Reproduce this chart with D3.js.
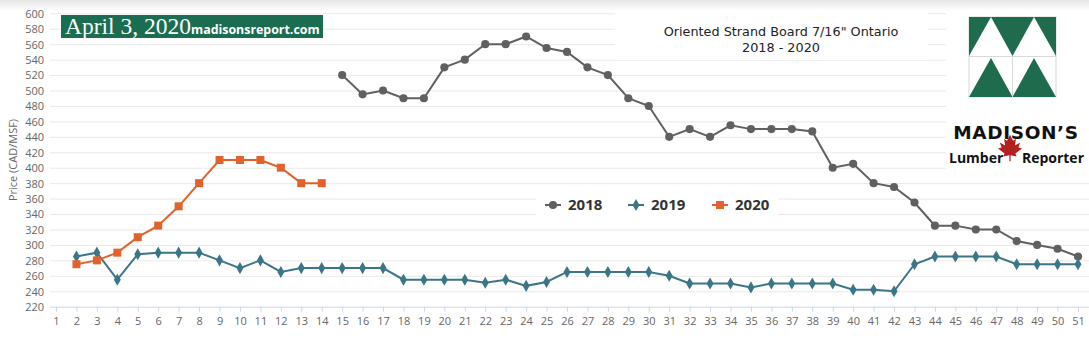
<!DOCTYPE html>
<html>
<head>
<meta charset="utf-8">
<script src="https://d3js.org/d3.v7.min.js"></script>
<style>
  body { margin: 0; background: #fff; }
  .tick text { fill: #666; font-family: "Open Sans", sans-serif; font-size: 11px; }
</style>
</head>
<body>
<div class="chart"></div>
<script>
var svgWidth = 1089;
var svgHeight = 339;

// weeks and prices (CAD/MSF)
var weeks = d3.range(1, 52);
var yTicks = d3.range(220, 601, 20);
var seriesNames = ["2018", "2019", "2020"];

var data2018 = [
  [15, 520], [16, 495], [17, 500], [18, 490], [19, 490], [20, 530], [21, 540],
  [22, 560], [23, 560], [24, 570], [25, 555], [26, 550], [27, 530], [28, 520],
  [29, 490], [30, 480], [31, 440], [32, 450], [33, 440], [34, 455], [35, 450],
  [36, 450], [37, 450], [38, 447], [39, 400], [40, 405], [41, 380], [42, 375],
  [43, 355], [44, 325], [45, 325], [46, 320], [47, 320], [48, 305], [49, 300],
  [50, 295], [51, 285]
];
var data2019 = [
  [2, 285], [3, 290], [4, 255], [5, 288], [6, 290], [7, 290], [8, 290],
  [9, 280], [10, 270], [11, 280], [12, 265], [13, 270], [14, 270], [15, 270],
  [16, 270], [17, 270], [18, 255], [19, 255], [20, 255], [21, 255], [22, 251],
  [23, 255], [24, 247], [25, 252], [26, 265], [27, 265], [28, 265], [29, 265],
  [30, 265], [31, 260], [32, 250], [33, 250], [34, 250], [35, 245], [36, 250],
  [37, 250], [38, 250], [39, 250], [40, 242], [41, 242], [42, 240], [43, 275],
  [44, 285], [45, 285], [46, 285], [47, 285], [48, 275], [49, 275], [50, 275],
  [51, 275]
];
var data2020 = [
  [2, 275], [3, 280], [4, 290], [5, 310], [6, 325], [7, 350], [8, 380],
  [9, 410], [10, 410], [11, 410], [12, 400], [13, 380], [14, 380]
];

var colors = { "2018": "#606060", "2019": "#3b7688", "2020": "#e2622b" };
var symbols = { "2018": d3.symbolCircle, "2019": d3.symbolDiamond, "2020": d3.symbolSquare };
var symSize = { "2018": 52, "2019": 42, "2020": 64 };

var svg = d3.select(".chart")
  .append("svg")
  .attr("width", svgWidth)
  .attr("height", svgHeight)
  .style("display", "block");

// faint shadow at top
var defs = svg.append("defs");
var grad = defs.append("linearGradient").attr("id", "topfade")
  .attr("x1", 0).attr("y1", 0).attr("x2", 0).attr("y2", 1);
grad.append("stop").attr("offset", "0%").attr("stop-color", "#e6e6e6");
grad.append("stop").attr("offset", "100%").attr("stop-color", "#ffffff");
svg.append("rect").attr("width", svgWidth).attr("height", 11).attr("fill", "url(#topfade)");

var xScale = d3.scalePoint()
  .domain(weeks)
  .range([56, 1078]);

var yScale = d3.scaleLinear()
  .domain([220, 600])
  .range([306.7, 13.3]);

// grid lines
svg.append("g")
  .selectAll("line")
  .data(yTicks.slice(1))
  .enter()
  .append("line")
  .attr("x1", 50)
  .attr("x2", svgWidth)
  .attr("y1", d => yScale(d) + 0.5)
  .attr("y2", d => yScale(d) + 0.5)
  .attr("stroke", "#e9e9e9")
  .attr("stroke-width", 1);

// y axis labels
var leftAxis = d3.axisLeft(yScale).tickValues(yTicks).tickSize(0).tickPadding(0);
var yAxis = svg.append("g")
  .attr("transform", "translate(44,0)")
  .call(leftAxis);
yAxis.select(".domain").remove();
yAxis.selectAll("text").attr("dy", "0.35em");

// x axis
var bottomAxis = d3.axisBottom(xScale).tickSize(5).tickPadding(6);
var xAxis = svg.append("g")
  .attr("transform", `translate(0, ${yScale(220)})`)
  .call(bottomAxis);
xAxis.select(".domain").attr("stroke", "#ccd6eb").attr("d", "M50,0.5H1089");
xAxis.selectAll(".tick line").attr("stroke", "#ccd6eb");

// y axis title
svg.append("text")
  .attr("transform", "translate(17,160) rotate(-90)")
  .attr("text-anchor", "middle")
  .attr("fill", "#666")
  .style("font-family", "Open Sans, sans-serif")
  .style("font-size", "11px")
  .text("Price (CAD/MSF)");

// white backgrounds behind title and logo
svg.append("rect").attr("x", 615).attr("y", 12).attr("width", 313).attr("height", 48).attr("fill", "#fff");
svg.append("rect").attr("x", 946).attr("y", 11).attr("width", 143).attr("height", 159).attr("fill", "#fff");

// title
svg.append("text")
  .attr("x", 781).attr("y", 36)
  .attr("text-anchor", "middle")
  .attr("fill", "#222")
  .style("font-family", "DejaVu Sans, sans-serif")
  .style("font-size", "12.8px")
  .text("Oriented Strand Board 7/16\" Ontario");
svg.append("text")
  .attr("x", 781).attr("y", 52)
  .attr("text-anchor", "middle")
  .attr("fill", "#222")
  .style("font-family", "DejaVu Sans, sans-serif")
  .style("font-size", "12.8px")
  .text("2018 - 2020");

// series
var allSeries = [["2018", data2018], ["2019", data2019], ["2020", data2020]];
var line = d3.line().x(d => xScale(d[0])).y(d => yScale(d[1]));

allSeries.forEach(function(s) {
  var name = s[0], pts = s[1];
  svg.append("path")
    .datum(pts)
    .attr("d", line)
    .attr("fill", "none")
    .attr("stroke", colors[name])
    .attr("stroke-width", 2);
  svg.append("g")
    .selectAll("path")
    .data(pts)
    .enter()
    .append("path")
    .attr("d", d3.symbol().type(symbols[name]).size(symSize[name]))
    .attr("transform", d => `translate(${xScale(d[0])},${yScale(d[1])})`)
    .attr("fill", colors[name]);
});

// legend
var legend = svg.append("g");
legend.append("rect").attr("x", 536).attr("y", 193).attr("width", 242).attr("height", 24).attr("fill", "#fff");
var legendX = [545, 628, 712];
seriesNames.forEach(function(name, i) {
  var g = legend.append("g").attr("transform", `translate(${legendX[i]},205)`);
  g.append("line").attr("x1", 0).attr("x2", 16).attr("y1", 0).attr("y2", 0)
    .attr("stroke", colors[name]).attr("stroke-width", 2);
  g.append("path")
    .attr("d", d3.symbol().type(symbols[name]).size(symSize[name]))
    .attr("transform", "translate(8,0)")
    .attr("fill", colors[name]);
  g.append("text")
    .attr("x", 23).attr("y", 0).attr("dy", "0.35em")
    .attr("fill", "#333")
    .style("font-family", "Open Sans, sans-serif")
    .style("font-size", "15px")
    .style("font-weight", "bold")
    .text(name);
});

// date banner
svg.append("rect").attr("x", 61).attr("y", 15).attr("width", 262).attr("height", 23).attr("fill", "#1b6d51");
var banner = svg.append("text").attr("x", 65).attr("y", 34).attr("fill", "#fff");
banner.append("tspan")
  .style("font-family", "Liberation Serif, serif")
  .style("font-size", "23.5px")
  .text("April 3, 2020");
banner.append("tspan")
  .style("font-family", "Open Sans, sans-serif")
  .style("font-size", "12.4px")
  .style("font-weight", "bold")
  .text("madisonsreport.com");

// logo
var lg = svg.append("g");
var lx0 = 969, lx1 = 1056, ly0 = 17, lym = 56, ly1 = 97;
var a1 = 991, am = 1012.5, a2 = 1034;
var green = "#1f6b4d";
lg.append("rect").attr("x", lx0).attr("y", ly0).attr("width", lx1 - lx0).attr("height", ly1 - ly0)
  .attr("fill", "#fff").attr("stroke", "#cfd8d3").attr("stroke-width", 1);
lg.append("path").attr("fill", green)
  .attr("d", `M${lx0},${ly0}H${a1}L${lx0},${lym}Z M${a1},${ly0}H${a2}L${am},${lym}Z M${a2},${ly0}H${lx1}V${lym}Z`);
lg.append("path").attr("fill", green)
  .attr("d", `M${a1},${lym + 2}L${am},${ly1}H${lx0}Z M${a2},${lym + 2}L${lx1},${ly1}H${am}Z`);
lg.append("line").attr("x1", lx0).attr("x2", lx1).attr("y1", lym + 0.5).attr("y2", lym + 0.5)
  .attr("stroke", "#d5dcd8");
lg.append("line").attr("x1", am).attr("x2", am).attr("y1", lym).attr("y2", ly1)
  .attr("stroke", "#d5dcd8");

svg.append("text")
  .attr("x", 1016).attr("y", 139)
  .attr("text-anchor", "middle")
  .attr("fill", "#111")
  .style("font-family", "DejaVu Sans, sans-serif")
  .style("font-size", "18.5px")
  .style("font-weight", "bold")
  .style("letter-spacing", "0.6px")
  .text("MADISON\u2019S");
// maple leaf
svg.append("path")
  .attr("fill", "#b3201f")
  .attr("transform", "translate(1010,148) scale(0.6)")
  .attr("d", "M0,-22 L5,-12 L10,-15 L8,-4 L17,-9 L14,-1 L20,1 L9,9 L11,14 L1,12 L1,22 L-1,22 L-1,12 L-11,14 L-9,9 L-20,1 L-14,-1 L-17,-9 L-8,-4 L-10,-15 L-5,-12 Z");
svg.append("text")
  .attr("x", 949).attr("y", 163)
  .attr("fill", "#111")
  .style("font-family", "Open Sans, sans-serif")
  .style("font-size", "14px")
  .style("font-weight", "bold")
  .text("Lumber");
svg.append("text")
  .attr("x", 1084).attr("y", 163)
  .attr("text-anchor", "end")
  .attr("fill", "#111")
  .style("font-family", "Open Sans, sans-serif")
  .style("font-size", "14px")
  .style("font-weight", "bold")
  .text("Reporter");
</script>
</body>
</html>
